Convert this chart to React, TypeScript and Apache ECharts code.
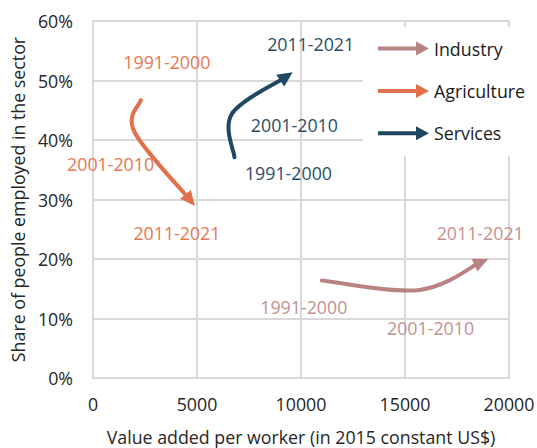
import React, { useEffect, useRef } from "react";
import * as echarts from "echarts";

// ---- Data ----
const periods = ["1991-2000", "2001-2010", "2011-2021"];
const seriesNames = ["Industry", "Agriculture", "Services"];
const industryX = [11000, 15700, 19000];
const industryY = [16.4, 14.8, 20.0];
const agricultureX = [2300, 2000, 4900];
const agricultureY = [46.7, 41.3, 28.9];
const servicesX = [6800, 6700, 9600];
const servicesY = [37.1, 44.5, 51.4];
const xAxisName = "Value added per worker (in 2015 constant US$)";
const yAxisName = "Share of people employed in the sector";

// ---- Styles ----
const FONT = "'Open Sans', 'Noto Sans', sans-serif";
const FS = 17.8;
const lineColors = ["#B98382", "#E2704A", "#1F4862"];
const labelColors = ["#C4918F", "#E9774F", "#2E4E66"];
// label offsets (px) relative to each period point
const labelOffsets = [
  [[-18, 27], [11, 38], [-8, -26]],
  [[26, -38], [-24, 32], [-18, 27]],
  [[54, 16], [62, 12], [18, -28]],
];
const ARROW_LEN = 15;
const ARROW_HALF = 7;
const LINE_W = 4;
const GRID_COLOR = "#d9d9d9";

const legendIcon = "path://M0,5 L38,5 L38,0 L51,7 L38,14 L38,9 L0,9 Z";

function makeRender(xs: number[], ys: number[], si: number) {
  return (params: any, api: any) => {
    if (params.dataIndex !== 0) return null;
    const pts: number[][] = xs.map((x, i) => api.coord([x, ys[i]]));
    const n = pts.length;
    const k = 1 / 6;
    const tang = pts.map((_, i) => {
      const p0 = pts[Math.max(0, i - 1)];
      const p1 = pts[Math.min(n - 1, i + 1)];
      return [p1[0] - p0[0], p1[1] - p0[1]];
    });
    const children: any[] = [];
    for (let i = 0; i < n - 1; i++) {
      const a = pts[i];
      const b = pts[i + 1];
      let cp1 = [a[0] + tang[i][0] * k, a[1] + tang[i][1] * k];
      let cp2 = [b[0] - tang[i + 1][0] * k, b[1] - tang[i + 1][1] * k];
      let end = [b[0], b[1]];
      if (i === n - 2) {
        let dx = b[0] - cp2[0];
        let dy = b[1] - cp2[1];
        const len = Math.hypot(dx, dy) || 1;
        const ux = dx / len;
        const uy = dy / len;
        const cut = ARROW_LEN - 3;
        end = [b[0] - ux * cut, b[1] - uy * cut];
        cp2 = [cp2[0] - ux * cut * 0.5, cp2[1] - uy * cut * 0.5];
        const bx = b[0] - ux * ARROW_LEN;
        const by = b[1] - uy * ARROW_LEN;
        children.push({
          type: "polygon",
          z2: 2,
          shape: {
            points: [
              [b[0], b[1]],
              [bx - uy * ARROW_HALF, by + ux * ARROW_HALF],
              [bx + uy * ARROW_HALF, by - ux * ARROW_HALF],
            ],
          },
          style: { fill: lineColors[si] },
        });
      }
      children.push({
        type: "bezierCurve",
        z2: 1,
        shape: {
          x1: a[0], y1: a[1], x2: end[0], y2: end[1],
          cpx1: cp1[0], cpy1: cp1[1], cpx2: cp2[0], cpy2: cp2[1],
        },
        style: { stroke: lineColors[si], lineWidth: LINE_W, fill: "none", lineCap: i === 0 ? "round" : "butt" },
      });
    }
    pts.forEach((p, i) => {
      children.push({
        type: "text",
        z2: 3,
        x: p[0] + labelOffsets[si][i][0],
        y: p[1] + labelOffsets[si][i][1],
        style: {
          text: periods[i],
          fill: labelColors[si],
          fontSize: FS,
          fontFamily: FONT,
          align: "center",
          verticalAlign: "middle",
        },
      });
    });
    return { type: "group", children };
  };
}

export default function App() {
  const ref = useRef<HTMLDivElement>(null);
  useEffect(() => {
    if (!ref.current) return;
    const chart = echarts.init(ref.current, undefined, { renderer: "svg" });
    const xsAll = [industryX, agricultureX, servicesX];
    const ysAll = [industryY, agricultureY, servicesY];
    chart.setOption({
      animation: false,
      backgroundColor: "#fff",
      textStyle: { fontFamily: FONT },
      grid: { left: 93, top: 21, width: 416, height: 357, containLabel: false, outerBoundsMode: "none" },
      legend: {
        orient: "vertical",
        left: 363,
        top: 27,
        padding: [12.5, 10, 14, 15],
        backgroundColor: "#fff",
        itemWidth: 51,
        itemHeight: 14,
        itemGap: 24.4,
        textStyle: { fontSize: FS, fontFamily: FONT, color: "#1a1a1a", lineHeight: 17 },
        data: seriesNames.map((name, i) => ({
          name,
          icon: legendIcon,
          itemStyle: { color: lineColors[i], borderWidth: 0 },
        })),
      },
      xAxis: {
        type: "value",
        min: 0,
        max: 20000,
        interval: 5000,
        name: xAxisName,
        nameLocation: "middle",
        nameGap: 50,
        nameTextStyle: { fontSize: FS, fontFamily: FONT, color: "#262626" },
        axisLine: { show: true, lineStyle: { color: GRID_COLOR, width: 2 } },
        axisTick: { show: false },
        axisLabel: {
          fontSize: FS,
          fontFamily: FONT,
          color: "#262626",
          margin: 17,
          formatter: (v: number) => String(v),
        },
        splitLine: { show: true, lineStyle: { color: GRID_COLOR, width: 2 } },
      },
      yAxis: {
        type: "value",
        min: 0,
        max: 60,
        interval: 10,
        name: yAxisName,
        nameLocation: "middle",
        nameGap: 66,
        nameTextStyle: { fontSize: FS, fontFamily: FONT, color: "#262626" },
        axisLine: { show: true, lineStyle: { color: GRID_COLOR, width: 2 } },
        axisTick: { show: false },
        axisLabel: { fontSize: FS, fontFamily: FONT, color: "#262626", margin: 20, formatter: "{value}%" },
        splitLine: { show: true, lineStyle: { color: GRID_COLOR, width: 2 } },
      },
      series: seriesNames.map((name, si) => ({
        type: "custom",
        name,
        clip: false,
        itemStyle: { color: lineColors[si] },
        encode: { x: 0, y: 1 },
        data: xsAll[si].map((x, i) => [x, ysAll[si][i]]),
        renderItem: makeRender(xsAll[si], ysAll[si], si),
      })),
    });
    return () => chart.dispose();
  }, []);
  return <div ref={ref} style={{ position: "fixed", left: 0, top: 0, width: 537, height: 448 }} />;
}
